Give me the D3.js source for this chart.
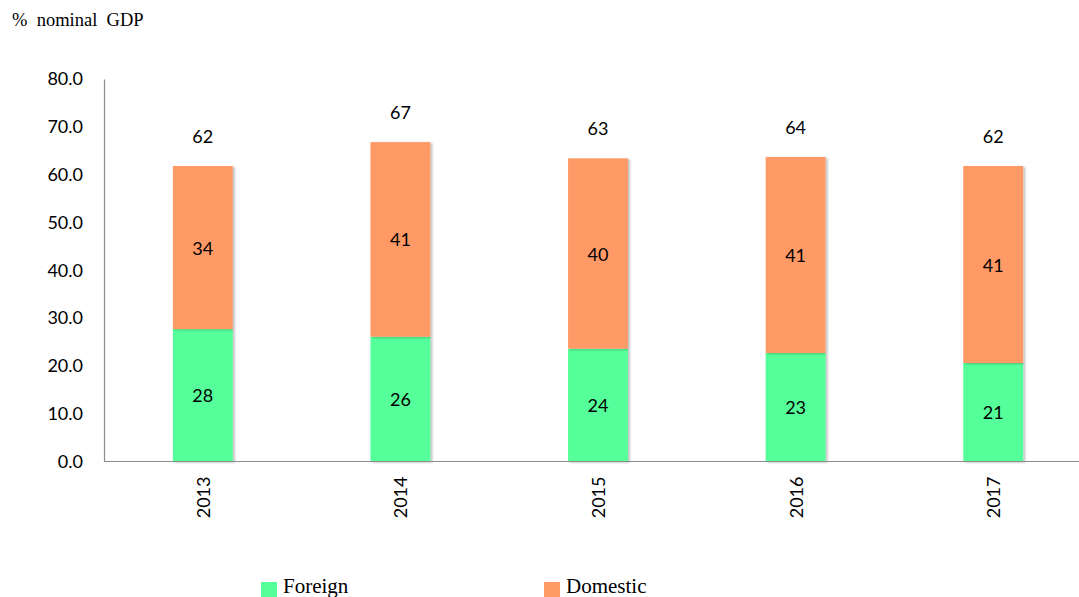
<!DOCTYPE html>
<html>
<head>
<meta charset="utf-8">
<script src="https://cdn.jsdelivr.net/npm/d3@7"></script>
<style>
  html, body { margin: 0; padding: 0; background: #fff; }
  svg { display: block; }
</style>
</head>
<body>
<svg id="chart" width="1079" height="597"></svg>
<script>
const years = ["2013", "2014", "2015", "2016", "2017"];
const foreign = [27.7, 26.1, 23.6, 22.7, 20.6];
const domestic = [34.1, 40.7, 39.8, 41.0, 41.2];
const seriesNames = ["Foreign", "Domestic"];
const seriesColors = ["#55FF99", "#FF9966"];
const yTicks = [0, 10, 20, 30, 40, 50, 60, 70, 80];
const yTitle = "%  nominal  GDP";

(function () {
const svg = d3.select("#chart");
const W = 1079, H = 597;
const mLeft = 104, mRight = 1092, mTop = 79, mBottom = 461.5;
const sans = "Lato, 'Open Sans', sans-serif";
const serif = "'Liberation Serif', 'Times New Roman', serif";
const fs = 18;

const x = d3.scaleBand().domain(years).range([mLeft, mRight]).padding(0);
const y = d3.scaleLinear().domain([0, 80]).range([mBottom, mTop]);
const barW = x.bandwidth() * 0.303;

const defs = svg.append("defs");
const f = defs.append("filter").attr("id", "sh").attr("x", "-20%").attr("y", "-5%").attr("width", "140%").attr("height", "110%");
f.append("feDropShadow").attr("dx", 2).attr("dy", 1).attr("stdDeviation", 1.2)
  .attr("flood-color", "#000").attr("flood-opacity", 0.25);

// Title
svg.append("text").attr("x", 12).attr("y", 26)
  .attr("font-family", serif)
  .attr("font-size", 18.5).attr("fill", "#000")
  .style("white-space", "pre").text(yTitle);

// Y axis
const yAxis = d3.axisLeft(y).tickValues(yTicks).tickFormat(d3.format(".1f")).tickSize(0).tickPadding(21);
const gy = svg.append("g").attr("transform", `translate(${mLeft},0)`).call(yAxis);
gy.select(".domain").attr("stroke", "#8c8c8c").attr("stroke-width", 1.2);
gy.selectAll("text").attr("font-family", sans).attr("font-size", fs).attr("fill", "#000");

// stacked data
const rows = years.map((yr, i) => ({ year: yr, Foreign: foreign[i], Domestic: domestic[i] }));
const stack = d3.stack().keys(seriesNames)(rows);

const layers = svg.append("g").selectAll("g").data(stack).join("g")
  .attr("fill", (d, i) => seriesColors[i]);
layers.selectAll("rect").data(d => d).join("rect")
  .attr("x", d => x(d.data.year) + x.bandwidth() / 2 - barW / 2)
  .attr("width", barW)
  .attr("y", d => y(d[1]))
  .attr("height", d => y(d[0]) - y(d[1]))
  .attr("filter", "url(#sh)");

// X baseline
svg.append("line").attr("x1", mLeft).attr("x2", W).attr("y1", mBottom).attr("y2", mBottom)
  .attr("stroke", "#8c8c8c").attr("stroke-width", 1.2);

// segment labels
layers.selectAll("text").data(d => d).join("text")
  .attr("x", d => x(d.data.year) + x.bandwidth() / 2)
  .attr("y", d => (y(d[0]) + y(d[1])) / 2)
  .attr("text-anchor", "middle").attr("dominant-baseline", "central")
  .attr("font-family", sans).attr("font-size", fs).attr("fill", "#000")
  .text(d => Math.round(d[1] - d[0]));

// totals
svg.append("g").selectAll("text").data(rows).join("text")
  .attr("x", d => x(d.year) + x.bandwidth() / 2)
  .attr("y", d => y(d.Foreign + d.Domestic) - 30)
  .attr("text-anchor", "middle").attr("dominant-baseline", "central")
  .attr("font-family", sans).attr("font-size", fs).attr("fill", "#000")
  .text(d => Math.round(d.Foreign + d.Domestic));

// year labels
svg.append("g").selectAll("text").data(years).join("text")
  .attr("transform", d => `translate(${x(d) + x.bandwidth() / 2},${mBottom + 15}) rotate(-90)`)
  .attr("text-anchor", "end").attr("dominant-baseline", "central")
  .attr("font-family", sans).attr("font-size", fs).attr("fill", "#000")
  .text(d => d);

// legend
const legX = [261, 544];
const leg = svg.append("g").selectAll("g").data(seriesNames).join("g")
  .attr("transform", (d, i) => `translate(${legX[i]},582)`);
leg.append("rect").attr("width", 16).attr("height", 16).attr("fill", (d, i) => seriesColors[i]);
leg.append("text").attr("x", 22).attr("y", 11)
  .attr("font-family", serif)
  .attr("font-size", 21).attr("fill", "#000").text(d => d);
})();
</script>
</body>
</html>
